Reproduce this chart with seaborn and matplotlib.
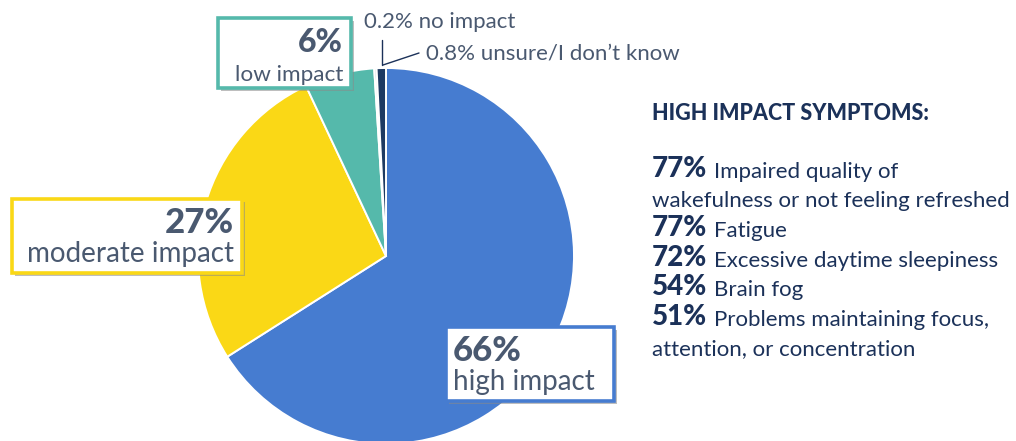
import matplotlib
matplotlib.use("Agg")
import matplotlib.pyplot as plt
import seaborn as sns
from matplotlib.patches import Rectangle
from matplotlib.lines import Line2D

# Impact of symptoms (share of respondents)
categories = ["high impact", "moderate impact", "low impact", "no impact", "unsure/I don\u2019t know"]
shares = [66, 27, 6, 0.2, 0.8]
share_labels = ["66%", "27%", "6%", "0.2%", "0.8%"]
colors = ["#467CD0", "#FAD816", "#55B9AB", "#C9CDD2", "#1E3A62"]

# High impact symptom breakdown
symptom_pcts = ["77%", "77%", "72%", "54%", "51%"]
symptoms = [
    "Impaired quality of\nwakefulness or not feeling refreshed",
    "Fatigue",
    "Excessive daytime sleepiness",
    "Brain fog",
    "Problems maintaining focus,\nattention, or concentration",
]
panel_title = "HIGH IMPACT SYMPTOMS:"

sns.set_theme(style="white")
plt.rcParams["font.family"] = ["Lato", "DejaVu Sans"]

W, H = 1016, 441
fig = plt.figure(figsize=(W / 100, H / 100), dpi=100)
fig.patch.set_facecolor("white")


def fx(x):
    return x / W


def fy(y):
    return 1 - y / H


label_color = "#4A5970"
navy = "#1B3159"

# Pie
cx, cy, r = 386, 256, 188
ax = fig.add_axes([fx(cx - r), fy(cy + r), 2 * r / W, 2 * r / H])
ax.pie(shares, colors=colors, startangle=90, counterclock=False,
       wedgeprops=dict(edgecolor="white", linewidth=1.4))
ax.set_xlim(-1, 1)
ax.set_ylim(-1, 1)
ax.set_aspect("equal")
ax.axis("off")


def boxed_label(left, top, right, bottom, edge, pct, name, align, xt, pct_size, name_size):
    shadow = Rectangle((fx(left + 3), fy(bottom + 3)), (right - left) / W, (bottom - top) / H,
                       transform=fig.transFigure, facecolor="#8a8a8a", edgecolor="none",
                       alpha=0.55, zorder=4)
    box = Rectangle((fx(left), fy(bottom)), (right - left) / W, (bottom - top) / H,
                    transform=fig.transFigure, facecolor="white", edgecolor=edge,
                    linewidth=2.6, zorder=5)
    fig.add_artist(shadow)
    fig.add_artist(box)
    fig.text(fx(xt), fy(top + 34), pct, ha=align, va="baseline", fontsize=pct_size,
             fontweight="black", color=label_color, zorder=6)
    fig.text(fx(xt), fy(top + 63), name, ha=align, va="baseline", fontsize=name_size,
             color=label_color, zorder=6)


boxed_label(218, 18, 351, 88, colors[2], share_labels[2], categories[2], "right", 343, 23, 16.2)
boxed_label(12, 199, 242, 273, colors[1], share_labels[1], categories[1], "right", 234, 25, 20)
boxed_label(446, 327, 614, 401, colors[0], share_labels[0], categories[0], "left", 453, 25, 20)

# Small slices labelled with leader lines
fig.add_artist(Line2D([fx(381.5), fx(381.5)], [fy(40), fy(65)], transform=fig.transFigure,
                      color=navy, linewidth=1.0, zorder=6))
fig.add_artist(Line2D([fx(383), fx(419)], [fy(65), fy(53)], transform=fig.transFigure,
                      color=navy, linewidth=1.0, zorder=6))
fig.text(fx(364), fy(28), f"{share_labels[3]} {categories[3]}", ha="left", va="baseline",
         fontsize=16, color=label_color)
fig.text(fx(426), fy(60), f"{share_labels[4]} {categories[4]}", ha="left", va="baseline",
         fontsize=16, color=label_color)

# Symptom panel
x0 = 652
fig.text(fx(x0), fy(120), panel_title, ha="left", va="baseline", fontsize=15.5,
         fontweight="black", color=navy)

line_step = 29.6
y = 177
for pct, desc in zip(symptom_pcts, symptoms):
    lines = desc.split("\n")
    t = fig.text(fx(x0), fy(y), pct, ha="left", va="baseline", fontsize=20,
                 fontweight="black", color=navy)
    plt.annotate(lines[0], xy=(1, 0), xycoords=t, xytext=(5, 0),
                 textcoords="offset points", ha="left", va="bottom",
                 fontsize=16, color=navy, annotation_clip=False)
    for extra in lines[1:]:
        y += line_step
        fig.text(fx(x0), fy(y), extra, ha="left", va="baseline", fontsize=16, color=navy)
    y += line_step

fig.savefig("out.png", dpi=100, facecolor="white")
